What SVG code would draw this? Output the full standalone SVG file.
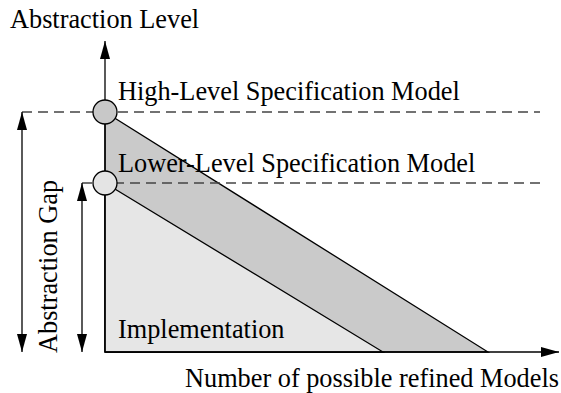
<svg xmlns="http://www.w3.org/2000/svg" width="561" height="393" viewBox="0 0 561 393">
<style>
text{font-family:"Liberation Serif","Times New Roman",serif;font-size:26.3px;fill:#000}
.ln{stroke:#000;stroke-width:1.3;fill:none}
.dash{stroke:#444;stroke-width:1.3;stroke-dasharray:10,6;fill:none}
.dot{stroke:#000;stroke-width:1.3}
</style>
<defs>
<marker id="ah" viewBox="0 0 18 10" refX="18" refY="5" markerWidth="18" markerHeight="10" markerUnits="userSpaceOnUse" orient="auto-start-reverse">
<path d="M0,0 L18,5 L0,10 Z" fill="#000"/>
</marker>
</defs>
<rect width="561" height="393" fill="#fff"/>
<g id="regions">
<polygon points="105,112 488,352 105,352" fill="#cacaca" stroke="#000" stroke-width="1.3"/>
<polygon points="105,183 383,352 105,352" fill="#e6e6e6" stroke="#000" stroke-width="1.3"/>
</g>
<g id="connectors">
<line class="dash" x1="22" y1="112" x2="540" y2="112"/>
<line class="dash" x1="82" y1="183" x2="540" y2="183"/>
<line class="ln" x1="105" y1="352" x2="105" y2="41" marker-end="url(#ah)"/>
<line class="ln" x1="105" y1="352" x2="559" y2="352" marker-end="url(#ah)"/>
<line class="ln" x1="22" y1="112" x2="22" y2="352" marker-start="url(#ah)" marker-end="url(#ah)"/>
<line class="ln" x1="82" y1="183" x2="82" y2="352" marker-start="url(#ah)" marker-end="url(#ah)"/>
</g>
<g id="high">
<circle class="dot" cx="105" cy="112" r="12" fill="#c8c8c8"/>
<text x="118" y="100">High-Level Specification Model</text>
</g>
<g id="lower">
<circle class="dot" cx="105" cy="183" r="12" fill="#e4e4e4"/>
<text x="118" y="172">Lower-Level Specification Model</text>
</g>
<g id="implementation">
<text x="118" y="338">Implementation</text>
</g>
<g id="labels">
<text x="10" y="28">Abstraction Level</text>
<text x="185" y="387">Number of possible refined Models</text>
<text transform="translate(57,353) rotate(-90)">Abstraction Gap</text>
</g>
</svg>
